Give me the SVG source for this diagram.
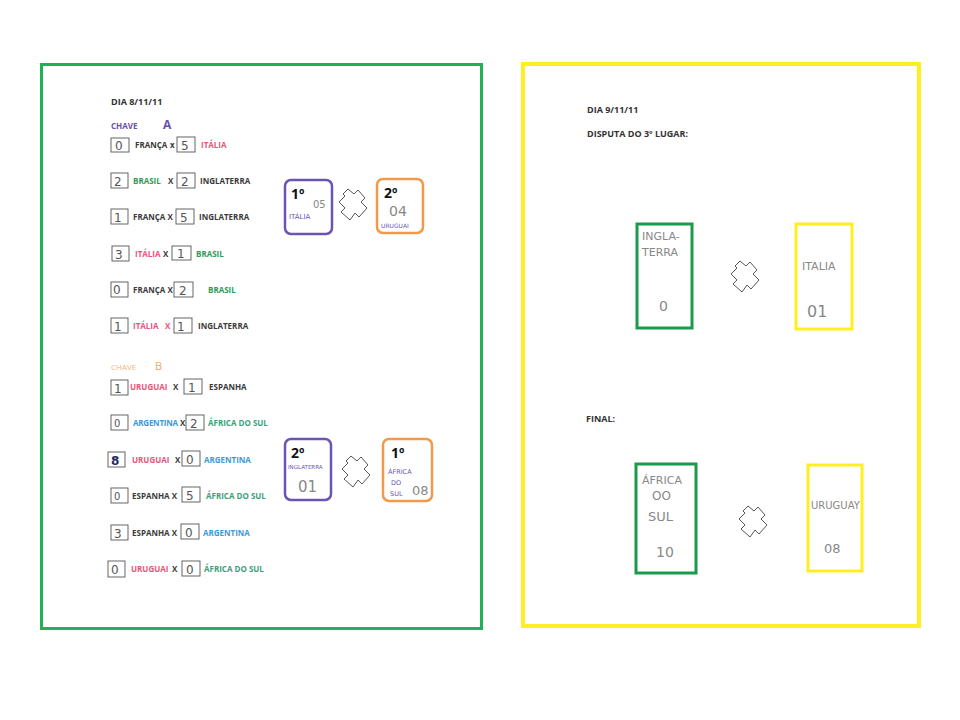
<svg xmlns="http://www.w3.org/2000/svg" width="960" height="720" viewBox="0 0 960 720">
<style>
.t{font-family:"Open Sans","Liberation Sans",sans-serif;font-weight:bold;font-size:8px;fill:#3a3a3a}
.h{font-family:"Open Sans","Liberation Sans",sans-serif;font-weight:bold;font-size:9px;fill:#333}
.pk{fill:#e9557a}.gr{fill:#2f9a55}.bl{fill:#3b9ad8}.tl{fill:#3aa17a}
.sb{fill:none;stroke:#555;stroke-width:0.9}
.sc{font-family:"DejaVu Sans","Liberation Sans",sans-serif;font-size:12px;fill:#555}
.hw{font-family:"DejaVu Sans","Liberation Sans",sans-serif;fill:#888;font-weight:normal}
.crs{fill:#fff;stroke:#444;stroke-width:0.9;stroke-linejoin:round}
.pb{fill:#fff;stroke:#6b55b3;stroke-width:2.5}
.ob{fill:#fff;stroke:#f29a4c;stroke-width:2.5}
.big{font-family:"Open Sans","Liberation Sans",sans-serif;font-weight:bold;font-size:14px;fill:#111}
</style>
<defs>
<path id="cross" d="M10,0 L16,5 L20,1 L27,9 L23,13 L29,19 L21,28 L17,24 L12,31 L3,23 L7,19 L1,13 L7,7 L5,5 Z"/>
</defs>
<rect width="960" height="720" fill="#fff"/>

<g id="panel-left">
<rect x="41.5" y="64.5" width="440" height="564" fill="none" stroke="#1fb155" stroke-width="3"/>
</g>
<g id="panel-right">
<rect x="523" y="64" width="396" height="562" fill="none" stroke="#ffee22" stroke-width="4"/>
</g>

<g id="group-a">
<text class="h" x="111" y="105">DIA  8/11/11</text>
<text class="t" x="111" y="129" style="fill:#6a4fae">CHAVE</text>
<text class="h" x="163" y="129" style="fill:#6a4fae;font-size:12px">A</text>

<rect class="sb" x="111" y="138" width="18" height="14"/><text class="sc" x="115" y="150">0</text>
<text class="t" x="135" y="148">FRANÇA</text><text class="t" x="170" y="148">x</text>
<rect class="sb" x="177" y="137" width="18" height="15"/><text class="sc" x="181" y="150">5</text>
<text class="t pk" x="201" y="148">ITÁLIA</text>

<rect class="sb" x="111" y="173" width="17" height="15"/><text class="sc" x="114" y="186">2</text>
<text class="t gr" x="133" y="184">BRASIL</text><text class="t" x="168" y="184">X</text>
<rect class="sb" x="177" y="173" width="18" height="15"/><text class="sc" x="181" y="186">2</text>
<text class="t" x="200" y="184">INGLATERRA</text>

<rect class="sb" x="111" y="209" width="17" height="15"/><text class="sc" x="114" y="222">1</text>
<text class="t" x="133" y="220">FRANÇA X</text>
<rect class="sb" x="176" y="209" width="18" height="15"/><text class="sc" x="180" y="222">5</text>
<text class="t" x="199" y="220">INGLATERRA</text>

<rect class="sb" x="112" y="246" width="17" height="15"/><text class="sc" x="115" y="259">3</text>
<text class="t pk" x="135" y="257">ITÁLIA</text><text class="t" x="163" y="257">X</text>
<rect class="sb" x="172" y="246" width="19" height="14"/><text class="sc" x="177" y="258">1</text>
<text class="t gr" x="196" y="257">BRASIL</text>

<rect class="sb" x="111" y="282" width="17" height="15"/><text class="sc" x="113" y="294">0</text>
<text class="t" x="133" y="293">FRANÇA X</text>
<rect class="sb" x="174" y="282" width="19" height="15"/><text class="sc" x="179" y="295">2</text>
<text class="t gr" x="208" y="293">BRASIL</text>

<rect class="sb" x="111" y="318" width="17" height="15"/><text class="sc" x="114" y="331">1</text>
<text class="t pk" x="133" y="329">ITÁLIA</text><text class="t pk" x="165" y="329">X</text>
<rect class="sb" x="174" y="318" width="18" height="15"/><text class="sc" x="177" y="331">1</text>
<text class="t" x="198" y="329">INGLATERRA</text>
</g>

<g id="group-b">
<text class="t" x="111" y="370" style="fill:#f7b27a;font-weight:normal">CHAVE</text>
<text class="h" x="155" y="370" style="fill:#f5a862;font-size:11px;font-weight:normal">B</text>

<rect class="sb" x="111" y="380" width="17" height="15"/><text class="sc" x="114" y="393">1</text>
<text class="t pk" x="130" y="390">URUGUAI</text><text class="t" x="173" y="390">X</text>
<rect class="sb" x="184" y="379" width="18" height="15"/><text class="sc" x="188" y="392">1</text>
<text class="t" x="209" y="390">ESPANHA</text>

<rect class="sb" x="111" y="415" width="17" height="15"/><text class="sc" x="114" y="427" style="font-size:10px">0</text>
<text class="t bl" x="133" y="426" textLength="45">ARGENTINA</text><text class="t" x="180" y="426">X</text>
<rect class="sb" x="186" y="415" width="18" height="15"/><text class="sc" x="190" y="428">2</text>
<text class="t tl" x="208" y="426">ÁFRICA DO SUL</text>

<rect class="sb" x="108" y="452" width="17" height="15"/><text class="sc" x="111" y="465" style="fill:#222a66;font-weight:bold">8</text>
<text class="t pk" x="132" y="463">URUGUAI</text><text class="t" x="175" y="463">X</text>
<rect class="sb" x="182" y="451" width="18" height="15"/><text class="sc" x="186" y="464">0</text>
<text class="t bl" x="204" y="463">ARGENTINA</text>

<rect class="sb" x="111" y="488" width="17" height="15"/><text class="sc" x="114" y="500" style="font-size:10px">0</text>
<text class="t" x="132" y="499">ESPANHA  X</text>
<rect class="sb" x="182" y="487" width="18" height="15"/><text class="sc" x="186" y="500">5</text>
<text class="t tl" x="206" y="499">ÁFRICA DO SUL</text>

<rect class="sb" x="111" y="525" width="17" height="15"/><text class="sc" x="114" y="538">3</text>
<text class="t" x="132" y="536">ESPANHA X</text>
<rect class="sb" x="181" y="524" width="18" height="15"/><text class="sc" x="185" y="537">0</text>
<text class="t bl" x="203" y="536">ARGENTINA</text>

<rect class="sb" x="108" y="561" width="17" height="16"/><text class="sc" x="111" y="574">0</text>
<text class="t pk" x="131" y="572">URUGUAI</text><text class="t" x="172" y="572">X</text>
<rect class="sb" x="182" y="561" width="18" height="15"/><text class="sc" x="186" y="574">0</text>
<text class="t tl" x="204" y="572">ÁFRICA DO SUL</text>
</g>

<g id="node-a1">
<rect class="pb" x="285" y="180" width="47" height="54" rx="6"/>
<text class="big" x="291" y="199">1º</text>
<text class="hw" x="313" y="208" style="font-size:10px">05</text>
<text class="hw" x="289" y="219" style="font-size:7px;fill:#6b55b3">ITÁLIA</text>
</g>
<g id="node-a2">
<rect class="ob" x="377" y="179" width="46" height="54" rx="6"/>
<text class="big" x="384" y="198">2º</text>
<text class="hw" x="389" y="216" style="font-size:14px">04</text>
<text class="hw" x="381" y="228" style="font-size:6px;fill:#6b55b3">URUGUAI</text>
</g>
<g id="node-b1">
<rect class="pb" x="285" y="439" width="46" height="61" rx="6"/>
<text class="big" x="291" y="458">2º</text>
<text class="hw" x="288" y="469" style="font-size:5.5px;fill:#6b55b3">INGLATERRA</text>
<text class="hw" x="298" y="492" style="font-size:15px">01</text>
</g>
<g id="node-b2">
<rect class="ob" x="383" y="439" width="49" height="62" rx="6"/>
<text class="big" x="391" y="458">1º</text>
<text class="hw" x="388" y="474" style="font-size:6.5px;fill:#6b55b3">ÁFRICA</text>
<text class="hw" x="391" y="485" style="font-size:6.5px;fill:#6b55b3">DO</text>
<text class="hw" x="390" y="496" style="font-size:6.5px;fill:#6b55b3">SUL</text>
<text class="hw" x="412" y="495" style="font-size:13px">08</text>
</g>

<g id="day2">
<text class="h" x="587" y="113">DIA 9/11/11</text>
<text class="h" x="587" y="137">DISPUTA DO 3º LUGAR:</text>
<text class="h" x="586" y="422">FINAL:</text>
</g>

<g id="node-third-eng">
<rect x="637" y="224" width="55" height="104" fill="#fff" stroke="#1a9a4a" stroke-width="3"/>
<text class="hw" x="642" y="240" style="font-size:11px">INGLA-</text>
<text class="hw" x="642" y="256" style="font-size:11px">TERRA</text>
<text class="hw" x="659" y="311" style="font-size:14px">0</text>
</g>
<g id="node-third-ita">
<rect x="796" y="224" width="56" height="105" fill="#fff" stroke="#ffee22" stroke-width="3"/>
<text class="hw" x="802" y="270" style="font-size:11px">ITALIA</text>
<text class="hw" x="807" y="317" style="font-size:16px">01</text>
</g>
<g id="node-final-afr">
<rect x="636" y="464" width="60" height="109" fill="#fff" stroke="#1a9a4a" stroke-width="3"/>
<text class="hw" x="642" y="484" style="font-size:11px">ÁFRICA</text>
<text class="hw" x="652" y="500" style="font-size:12px">OO</text>
<text class="hw" x="648" y="521" style="font-size:13px">SUL</text>
<text class="hw" x="656" y="557" style="font-size:14px">10</text>
</g>
<g id="node-final-uru">
<rect x="808" y="465" width="54" height="106" fill="#fff" stroke="#ffee22" stroke-width="3"/>
<text class="hw" x="811" y="509" style="font-size:10px">URUGUAY</text>
<text class="hw" x="824" y="553" style="font-size:13px">08</text>
</g>

<g id="connectors">
<use href="#cross" class="crs" transform="translate(338,189)"/>
<use href="#cross" class="crs" transform="translate(341,456)"/>
<use href="#cross" class="crs" transform="translate(730,261)"/>
<use href="#cross" class="crs" transform="translate(738,506)"/>
</g>
</svg>
